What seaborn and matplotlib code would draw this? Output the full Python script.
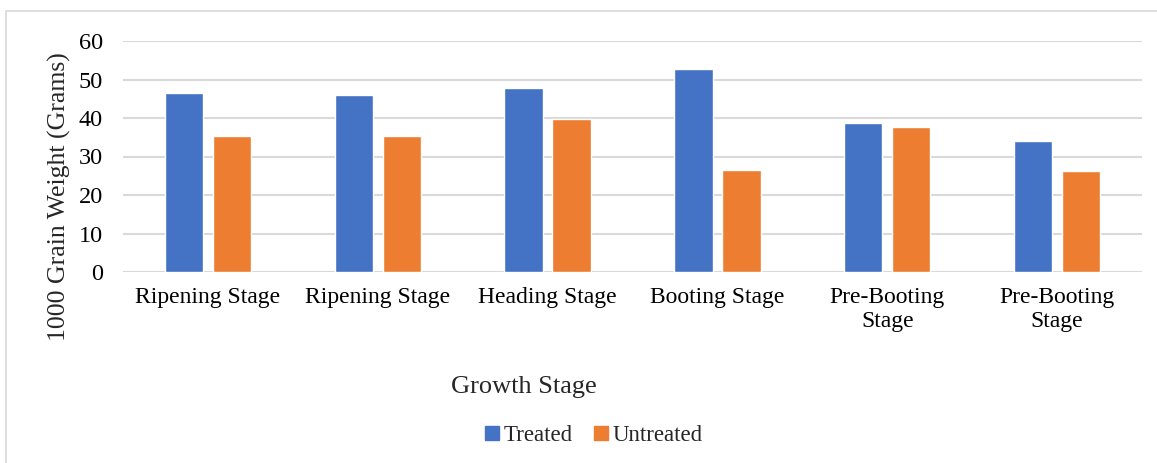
import matplotlib
matplotlib.use("Agg")
import matplotlib.pyplot as plt
from matplotlib.patches import Rectangle
from matplotlib.lines import Line2D
import seaborn as sns
import pandas as pd

# Growth stages sampled (two samples share a stage name)
stages = ["Ripening Stage", "Ripening Stage", "Heading Stage",
          "Booting Stage", "Pre-Booting\nStage", "Pre-Booting\nStage"]
treated = [46.6, 46.0, 47.9, 52.6, 38.8, 34.0]
untreated = [35.3, 35.3, 39.7, 26.4, 37.6, 26.2]
series = ["Treated", "Untreated"]
y_ticks = [0, 10, 20, 30, 40, 50, 60]

rows = []
for i, stage in enumerate(stages):
    rows.append({"slot": i, "group": series[0], "weight": treated[i]})
    rows.append({"slot": i, "group": series[1], "weight": untreated[i]})
df = pd.DataFrame(rows)

sns.set_theme(style="white")
plt.rcParams["font.family"] = ["Liberation Serif", "DejaVu Serif"]

W, H = 1157, 463
fig = plt.figure(figsize=(W / 100, H / 100), dpi=100)
ax = fig.add_axes([123 / W, 1 - 272 / H, (1142 - 123) / W, (272 - 41) / H])

palette = {"Treated": "#4472C4", "Untreated": "#ED7D31"}
sns.barplot(data=df, x="slot", y="weight", hue="group", hue_order=series,
            palette=palette, width=0.565, gap=0.2, saturation=1,
            legend=False, ax=ax, zorder=3)

ax.set_ylim(0, 60)
ax.set_yticks(y_ticks)
ax.set_xlim(-0.5, len(stages) - 0.5)
ax.yaxis.grid(True, color="#D9D9D9", linewidth=1.5, zorder=0)
ax.set_axisbelow(True)
for s in ax.spines.values():
    s.set_visible(False)
ax.tick_params(axis="both", length=0, colors="black")
ax.tick_params(axis="y", pad=14.5, labelsize=17.5)
ax.tick_params(axis="x", pad=11, labelsize=17)
ax.set_xticks(range(len(stages)))
ax.set_xticklabels(stages, linespacing=1.2)
ax.set_xlabel("")
ax.set_ylabel("")

fig.text(59 / W, 1 - 197 / H, "1000 Grain Weight (Grams)", rotation=90,
         ha="center", va="center", fontsize=18.5)
fig.text(524 / W, 1 - 393 / H, "Growth Stage", ha="center", va="baseline",
         fontsize=19)

handles = [Line2D([], [], marker="s", linestyle="none", markersize=10,
                  markerfacecolor=palette[k], markeredgecolor=palette[k])
           for k in series]
fig.legend(handles, series, loc="center", bbox_to_anchor=(594 / W, 1 - 435 / H),
           ncol=2, frameon=False, fontsize=16.5, handlelength=0.6,
           handletextpad=0.22, columnspacing=0.9, borderpad=0, borderaxespad=0)

# light chart-area border
fig.patches.append(Rectangle((6 / W, -0.1), 1.2, 1 - 11 / H + 0.1,
                             transform=fig.transFigure, fill=False,
                             edgecolor="#D9D9D9", linewidth=1.2))

fig.savefig("out.png", dpi=100)
